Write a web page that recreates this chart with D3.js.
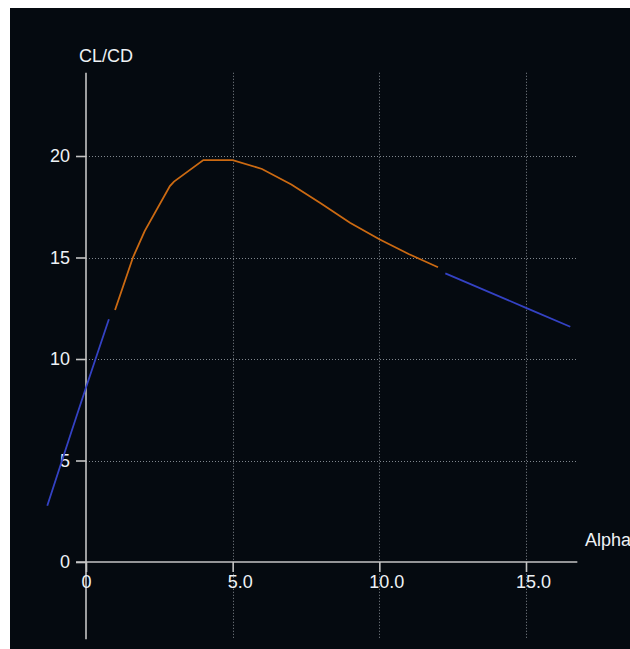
<!DOCTYPE html>
<html>
<head>
<meta charset="utf-8">
<script src="https://cdn.jsdelivr.net/npm/d3@7"></script>
<style>
  html, body { margin: 0; padding: 0; background: #ffffff; }
  svg { display: block; }
</style>
</head>
<body>
<svg id="chart" width="630" height="649"></svg>
<script>
// ---- data ----
const xLabel = "Alpha";
const yLabel = "CL/CD";
const xTicks = [0, 5, 10, 15];
const yTicks = [0, 5, 10, 15, 20];

// blue segment (low alpha)
const lowAlpha = [-1.32, -0.5, 0, 0.78];
const lowRatio = [2.77, 6.4, 8.6, 11.96];

// orange segment (main)
const midAlpha = [0.99, 1.6, 2.0, 2.86, 3.0, 4.0, 5.0, 6.0, 7.0, 8.0, 9.0, 10.0, 11.0, 12.0];
const midRatio = [12.41, 15.0, 16.3, 18.52, 18.74, 19.8, 19.8, 19.36, 18.6, 17.67, 16.71, 15.9, 15.17, 14.52];

// blue segment (high alpha)
const highAlpha = [12.25, 15.0, 16.51];
const highRatio = [14.22, 12.52, 11.59];

// ---- drawing ----
const svg = d3.select("#chart");
svg.append("rect").attr("x", 10).attr("y", 8).attr("width", 620).attr("height", 641).attr("fill", "#050a10");

const x = d3.scaleLinear().domain([0, 15]).range([86, 526]);
const y = d3.scaleLinear().domain([0, 20]).range([562, 156]);

const xMin = -0.34, xMax = 16.75, yMin = -3.8, yMax = 24.1;
const gridColor = "#80878e";
const axisColor = "#c4c4c4";
const textColor = "#eef2f6";
const font = "'Liberation Sans', Arial, sans-serif";

// grid
svg.append("g").selectAll("line").data(yTicks.filter(d => d !== 0)).join("line")
  .attr("x1", x(0)).attr("x2", x(xMax))
  .attr("y1", d => Math.round(y(d)) + 0.5).attr("y2", d => Math.round(y(d)) + 0.5)
  .attr("stroke", gridColor).attr("stroke-width", 1).attr("stroke-dasharray", "1,2");
svg.append("g").selectAll("line").data(xTicks.filter(d => d !== 0)).join("line")
  .attr("x1", d => Math.round(x(d)) + 0.5).attr("x2", d => Math.round(x(d)) + 0.5)
  .attr("y1", y(yMax)).attr("y2", y(yMin))
  .attr("stroke", gridColor).attr("stroke-width", 1).attr("stroke-dasharray", "1,2");

// axes lines
svg.append("line").attr("x1", x(0)).attr("x2", x(0)).attr("y1", y(yMax)).attr("y2", y(yMin))
  .attr("stroke", axisColor).attr("stroke-width", 1.6);
svg.append("line").attr("x1", x(xMin)).attr("x2", x(xMax)).attr("y1", y(0)).attr("y2", y(0))
  .attr("stroke", axisColor).attr("stroke-width", 1.6);

// y axis ticks
const yAxis = d3.axisLeft(y).tickValues(yTicks).tickSize(10).tickPadding(6).tickFormat(d => String(d));
const gy = svg.append("g").attr("transform", `translate(${x(0)},0)`).call(yAxis);
gy.select(".domain").remove();
gy.selectAll(".tick line").attr("stroke", axisColor).attr("stroke-width", 1.6);
gy.selectAll(".tick text").attr("fill", textColor).style("font-family", font).style("font-size", "18px");

// x axis ticks
const xAxis = d3.axisBottom(x).tickValues(xTicks).tickSize(10).tickPadding(3)
  .tickFormat(d => d === 0 ? "0" : d.toFixed(1));
const gx = svg.append("g").attr("transform", `translate(0,${y(0)})`).call(xAxis);
gx.select(".domain").remove();
gx.selectAll(".tick line").attr("stroke", axisColor).attr("stroke-width", 1.6);
gx.selectAll(".tick text").attr("fill", textColor).style("font-family", font).style("font-size", "18px")
  .attr("dx", d => d === 0 ? 0 : 7);

// axis labels
svg.append("text").attr("x", 79).attr("y", 62).text(yLabel)
  .attr("fill", textColor).style("font-family", font).style("font-size", "18px");
svg.append("text").attr("x", 585).attr("y", 546).text(xLabel)
  .attr("fill", textColor).style("font-family", font).style("font-size", "18px");

// curves
const line = d3.line().x(d => x(d[0])).y(d => y(d[1]));
const series = [
  { a: lowAlpha, r: lowRatio, color: "#3442c4" },
  { a: midAlpha, r: midRatio, color: "#cc6a12" },
  { a: highAlpha, r: highRatio, color: "#3442c4" }
];
series.forEach(s => {
  svg.append("path").datum(s.a.map((v, i) => [v, s.r[i]]))
    .attr("d", line).attr("fill", "none").attr("stroke", s.color).attr("stroke-width", 1.8);
});
</script>
</body>
</html>
